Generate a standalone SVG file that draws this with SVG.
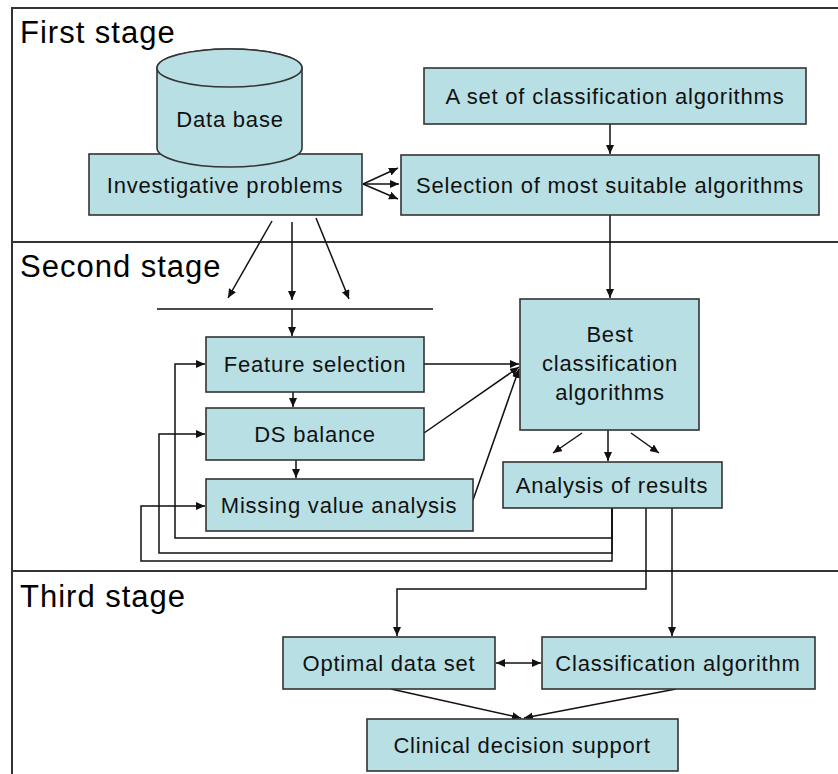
<svg xmlns="http://www.w3.org/2000/svg" width="838" height="774" viewBox="0 0 838 774">
<style>
.frame{stroke:#333;stroke-width:2;fill:none}
.box{fill:#B8DFE3;stroke:#333;stroke-width:1.6}
.t{font-family:"Liberation Sans",Arial,sans-serif;font-size:22px;letter-spacing:0.8px;fill:#111;text-anchor:middle}
.stage{font-family:"Liberation Sans",Arial,sans-serif;font-size:31px;letter-spacing:1px;fill:#000}
.c{stroke:#111;stroke-width:1.5;fill:none}
.ca{stroke:#111;stroke-width:1.5;fill:none;marker-end:url(#ah)}
</style>
<defs>
<marker id="ah" markerUnits="userSpaceOnUse" markerWidth="10" markerHeight="10" refX="9" refY="4" orient="auto">
<path d="M0,0 L9,4 L0,8 Z" fill="#111"/>
</marker>
<marker id="as" markerUnits="userSpaceOnUse" markerWidth="10" markerHeight="10" refX="0" refY="4" orient="auto">
<path d="M9,0 L0,4 L9,8 Z" fill="#111"/>
</marker>
</defs>
<rect width="838" height="774" fill="#fff"/>
<g id="frame">
<path class="frame" d="M838,8 H12 V774"/>
<path class="frame" d="M12,242 H838 M12,571 H838"/>
<text class="stage" x="20" y="43">First stage</text>
<text class="stage" x="20" y="277">Second stage</text>
<text class="stage" x="20" y="607">Third stage</text>
</g>
<g id="connectors">
<path class="ca" d="M363,184 L398,168"/>
<path class="ca" d="M363,184 L399,184"/>
<path class="ca" d="M363,184 L398,199"/>
<path class="ca" d="M610,124 V154"/>
<path class="ca" d="M610,215 V298"/>
<path class="ca" d="M272,221 L228,298"/>
<path class="ca" d="M292,222 V300"/>
<path class="ca" d="M316,218 L349,299"/>
<path class="c" d="M157,309 H433"/>
<path class="ca" d="M292,309 V336"/>
<path class="ca" d="M293,392 V407"/>
<path class="ca" d="M296,460 V478"/>
<path class="ca" d="M424,364 H519"/>
<path class="ca" d="M424,433 L519,367"/>
<path class="ca" d="M473,500 L519,369"/>
<path class="ca" d="M582,433 L553,453"/>
<path class="ca" d="M608,430 V461"/>
<path class="ca" d="M631,433 L659,453"/>
<path class="ca" d="M612,508 V538 H175 V364 H205"/>
<path class="ca" d="M612,508 V553 H159 V434 H205"/>
<path class="ca" d="M612,508 V561 H141 V506 H205"/>
<path class="ca" d="M646,508 V589 H397 V636"/>
<path class="ca" d="M672,508 V636"/>
<path class="c" d="M496,663 H541" marker-end="url(#ah)" marker-start="url(#as)"/>
<path class="ca" d="M391,689 L521,718"/>
<path class="ca" d="M676,689 L524,718"/>
</g>
<g id="investigative">
<rect class="box" x="89" y="154" width="273" height="61"/>
<text class="t" x="225" y="193">Investigative problems</text>
</g>
<g id="database">
<path class="box" d="M157,68 V148 A72.5,19 0 0 0 302,148 V68 A72.5,19 0 0 0 157,68 Z"/>
<ellipse class="box" cx="229.5" cy="68" rx="72.5" ry="19"/>
<text class="t" x="230" y="127">Data base</text>
</g>
<g id="set">
<rect class="box" x="424" y="68" width="382" height="56"/>
<text class="t" x="615" y="104">A set of classification algorithms</text>
</g>
<g id="selection">
<rect class="box" x="401" y="155" width="418" height="60"/>
<text class="t" x="610" y="193">Selection of most suitable algorithms</text>
</g>
<g id="feature">
<rect class="box" x="206" y="337" width="218" height="55"/>
<text class="t" x="315" y="372">Feature selection</text>
</g>
<g id="dsbalance">
<rect class="box" x="206" y="408" width="218" height="52"/>
<text class="t" x="315" y="442">DS balance</text>
</g>
<g id="missing">
<rect class="box" x="206" y="479" width="267" height="52"/>
<text class="t" x="339" y="513">Missing value analysis</text>
</g>
<g id="best">
<rect class="box" x="520" y="299" width="179" height="131"/>
<text class="t" x="610" y="342">Best</text>
<text class="t" x="610" y="371">classification</text>
<text class="t" x="610" y="400">algorithms</text>
</g>
<g id="analysis">
<rect class="box" x="503" y="462" width="219" height="46"/>
<text class="t" x="612" y="493">Analysis of results</text>
</g>
<g id="optimal">
<rect class="box" x="283" y="637" width="212" height="52"/>
<text class="t" x="389" y="671">Optimal data set</text>
</g>
<g id="classification">
<rect class="box" x="542" y="637" width="273" height="52"/>
<text class="t" x="678" y="671">Classification algorithm</text>
</g>
<g id="clinical">
<rect class="box" x="367" y="719" width="311" height="52"/>
<text class="t" x="522" y="753">Clinical decision support</text>
</g>
</svg>
